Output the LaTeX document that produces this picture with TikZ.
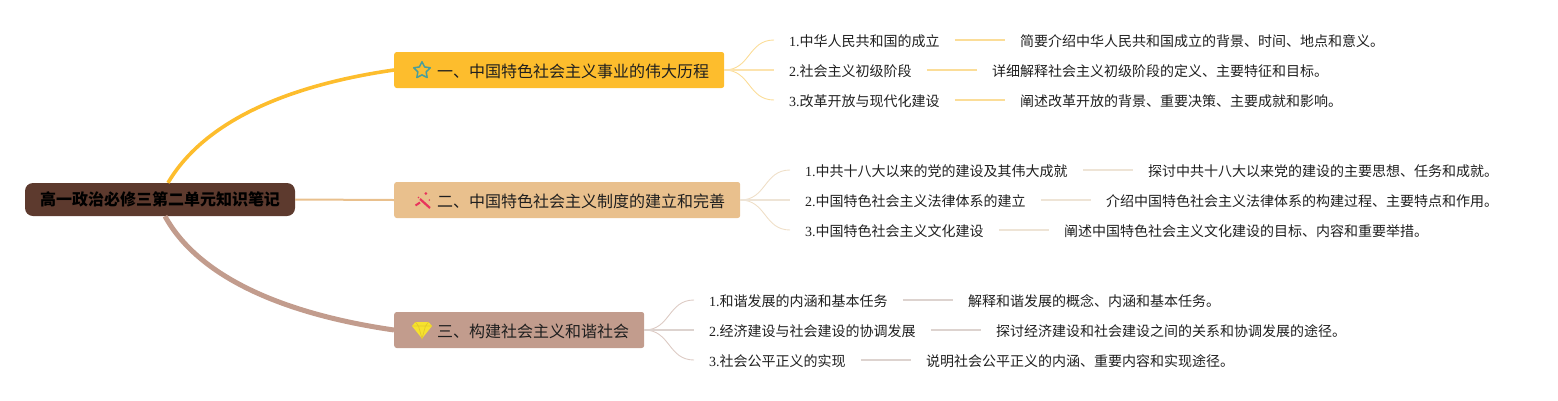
\documentclass[tikz,border=0pt]{standalone}
\usepackage{fontspec}
\setmainfont{Liberation Serif}
\newfontfamily\cjk{Noto Sans CJK SC}
\usetikzlibrary{shapes.geometric,calc}
\definecolor{rootc}{HTML}{5D3A2E}
\definecolor{ba}{HTML}{FDBD2D}
\definecolor{bb}{HTML}{E9C08D}
\definecolor{bc}{HTML}{C29C8D}
\definecolor{la}{HTML}{FBDD98}
\definecolor{lb}{HTML}{EFDFC8}
\definecolor{lc}{HTML}{DDCBC4}
\definecolor{ka}{HTML}{FCE3AE}
\definecolor{kb}{HTML}{EEE4D6}
\definecolor{kc}{HTML}{DDD3CF}
\definecolor{inkc}{HTML}{1F1F1F}
\definecolor{staric}{HTML}{4A9E9A}
\definecolor{wandic}{HTML}{E8345C}
\definecolor{gemic}{HTML}{F6E22E}
\definecolor{gemln}{HTML}{E3C92A}
\tikzset{
 rootbox/.style={fill=rootc,rounded corners=8pt,minimum width=270pt,minimum height=33pt,inner sep=0pt,font=\cjk\bfseries\fontsize{16}{16}\selectfont,text=black},
 branchbox/.style={fill=#1,rounded corners=2.5pt,minimum height=36pt,inner sep=0pt,anchor=west},
 branchtext/.style={anchor=west,inner sep=0pt,font=\cjk\fontsize{16}{16}\selectfont,text=inkc},
 leaflabel/.style={anchor=west,inner xsep=15pt,inner ysep=0pt,text height=12pt,text depth=0pt,font=\fontsize{14}{14}\selectfont,text=inkc},
 fan/.style={draw=#1,line width=.9pt},
 midfan/.style={draw=#1,line width=1.8pt},
 link/.style={draw=#1,line width=1.4pt}
}
\newcommand{\fanto}[3]{\draw[fan=#3] (#1.east) .. controls ($(#1.east)+(26,0)$) and ($(#2.west)+(-26,0)$) .. (#2.west);}
\begin{document}
\begin{tikzpicture}[x=1pt,y=-1pt]
\useasboundingbox (0,0) rectangle (1558,400);
\node[rootbox] (root) at (160,199.5) {高一政治必修三第二单元知识笔记};
\node[branchbox=ba,minimum width=330pt] (b1) at (394,70) {};
\node[branchbox=bb,minimum width=346pt] (b2) at (394,200) {};
\node[branchbox=bc,minimum width=250pt] (b3) at (394,330) {};
\node[branchtext] (t1) at (437,71.2) {一、中国特色社会主义事业的伟大历程};
\node[branchtext] (t2) at (437,201.2) {二、中国特色社会主义制度的建立和完善};
\node[branchtext] (t3) at (437,331.2) {三、构建社会主义和谐社会};
% trunks
\coordinate (r1) at ([xshift=8]root.north);
\coordinate (r3) at ([xshift=5]root.south);
\draw[ba,line width=3.6pt] (r1) .. controls (205,120) and (290,85) .. (b1.west);
\draw[bb,line width=2pt] (root.east) -- (b2.west);
\draw[bc,line width=5pt] (r3) .. controls (200,280) and (290,315) .. (b3.west);
% icons
\node[star,star points=5,star point ratio=2.0,draw=staric,line width=1.5pt,line join=round,minimum size=17.5pt,inner sep=0pt] (i1) at (422,70.5) {};
\draw[wandic,line width=2.2pt] (420,199) -- (430,208);
\draw[wandic,line width=2pt] (415.5,205.5) -- (420,202.5);
\fill[wandic] (425.8,193.5) circle (1.5pt) (429.3,200) circle (.8pt) (418.5,197.5) circle (.8pt);
\begin{scope}[shift={(422,330)}]
\fill[gemic] (-6.5,-8) -- (6.5,-8) -- (10,-4) -- (0,8.5) -- (-10,-4) -- cycle;
\draw[gemln,line width=.7pt] (-10,-4) -- (10,-4) (-6.5,-8) -- (-3.5,-4) -- (0,8.5) -- (3.5,-4) -- (6.5,-8);
\end{scope}
% branch 1
\node[leaflabel] (a1) at (774,40) {1.{\cjk 中华人民共和国的成立}};
\node[leaflabel] (a2) at (774,70) {2.{\cjk 社会主义初级阶段}};
\node[leaflabel] (a3) at (774,100) {3.{\cjk 改革开放与现代化建设}};
\node[leaflabel] (ad1) at ([xshift=50]a1.east) {\cjk 简要介绍中华人民共和国成立的背景、时间、地点和意义。};
\node[leaflabel] (ad2) at ([xshift=50]a2.east) {\cjk 详细解释社会主义初级阶段的定义、主要特征和目标。};
\node[leaflabel] (ad3) at ([xshift=50]a3.east) {\cjk 阐述改革开放的背景、重要决策、主要成就和影响。};
\fanto{b1}{a1}{la}\fanto{b1}{a3}{la}
\draw[midfan=ka] (b1.east) -- (a2.west);
\foreach \n in {1,2,3}{\draw[link=la] (a\n.east) -- (ad\n.west);}
% branch 2
\node[leaflabel] (c1) at (790,170) {1.{\cjk 中共十八大以来的党的建设及其伟大成就}};
\node[leaflabel] (c2) at (790,200) {2.{\cjk 中国特色社会主义法律体系的建立}};
\node[leaflabel] (c3) at (790,230) {3.{\cjk 中国特色社会主义文化建设}};
\node[leaflabel] (cd1) at ([xshift=50]c1.east) {\cjk 探讨中共十八大以来党的建设的主要思想、任务和成就。};
\node[leaflabel] (cd2) at ([xshift=50]c2.east) {\cjk 介绍中国特色社会主义法律体系的构建过程、主要特点和作用。};
\node[leaflabel] (cd3) at ([xshift=50]c3.east) {\cjk 阐述中国特色社会主义文化建设的目标、内容和重要举措。};
\fanto{b2}{c1}{lb}\fanto{b2}{c3}{lb}
\draw[midfan=kb] (b2.east) -- (c2.west);
\foreach \n in {1,2,3}{\draw[link=kb] (c\n.east) -- (cd\n.west);}
% branch 3
\node[leaflabel] (e1) at (694,300) {1.{\cjk 和谐发展的内涵和基本任务}};
\node[leaflabel] (e2) at (694,330) {2.{\cjk 经济建设与社会建设的协调发展}};
\node[leaflabel] (e3) at (694,360) {3.{\cjk 社会公平正义的实现}};
\node[leaflabel] (ed1) at ([xshift=50]e1.east) {\cjk 解释和谐发展的概念、内涵和基本任务。};
\node[leaflabel] (ed2) at ([xshift=50]e2.east) {\cjk 探讨经济建设和社会建设之间的关系和协调发展的途径。};
\node[leaflabel] (ed3) at ([xshift=50]e3.east) {\cjk 说明社会公平正义的内涵、重要内容和实现途径。};
\fanto{b3}{e1}{lc}\fanto{b3}{e3}{lc}
\draw[midfan=kc] (b3.east) -- (e2.west);
\foreach \n in {1,2,3}{\draw[link=kc] (e\n.east) -- (ed\n.west);}
\end{tikzpicture}
\end{document}
